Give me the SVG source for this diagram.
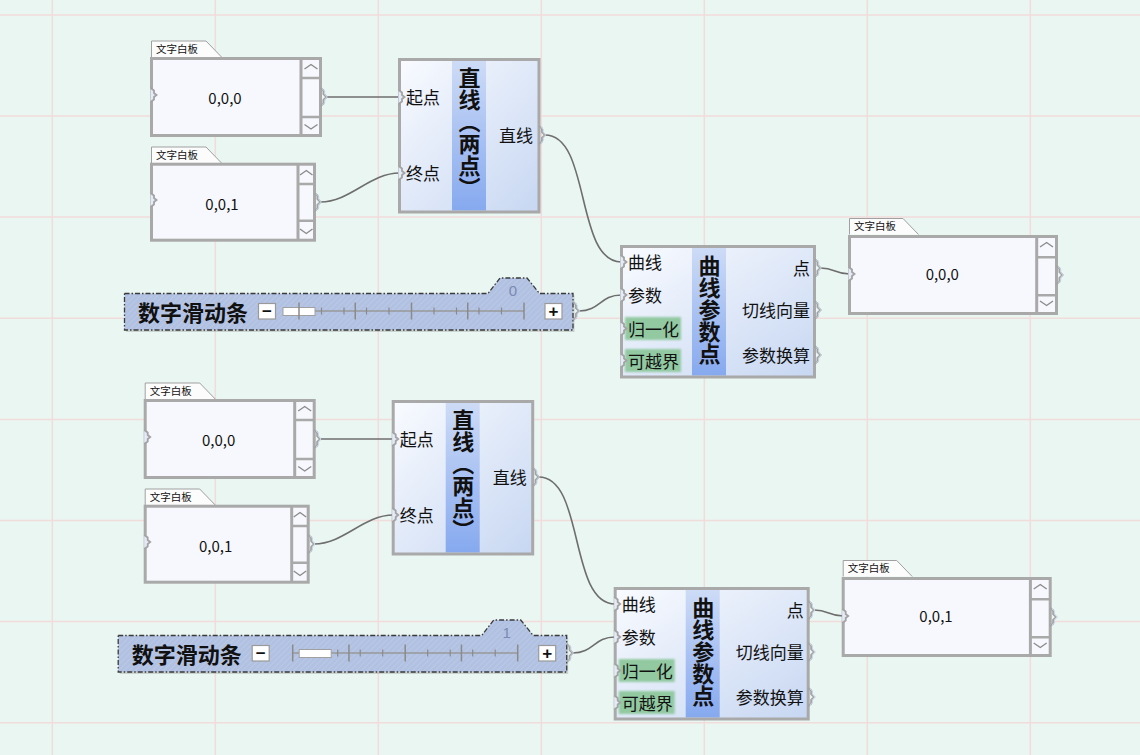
<svg xmlns="http://www.w3.org/2000/svg" xmlns:xlink="http://www.w3.org/1999/xlink" width="1140" height="755" viewBox="0 0 1140 755">
<style>
.t{font-family:"Noto Sans CJK SC","Noto Sans",sans-serif;fill:#111}
.lbl{font-size:17px;dominant-baseline:central}
.end{text-anchor:end}
.ttl{font-size:22px;font-weight:bold}
.tabt{font-size:10.5px}
.val{font-size:15px;text-anchor:middle;dominant-baseline:central}
.tabs{fill:#fcfcfc;stroke:#a0a0a0;stroke-width:1}
.pbox{fill:#f7f8fd;stroke:#a9a9a9;stroke-width:3}
.bd{fill:none;stroke:#a9a9a9;stroke-width:3}
.bd2{fill:none;stroke:#a9a9a9;stroke-width:2.5}
.chev{fill:none;stroke:#8c8c8c;stroke-width:1.4}
.nbody{fill:url(#gBody)}
.band{fill:url(#gBand)}
.green{fill:#92c9a1;filter:url(#soft)}
.w{fill:none;stroke:#6e6e6e;stroke-width:1.6}
.grid{stroke:#f1dcdc;stroke-width:1.5}
.sl{fill:url(#hatch);stroke:#3a3a3a;stroke-width:1.3;stroke-dasharray:5 2 1.5 2}
.slsh{fill:#000;opacity:0.14}
.btn{fill:#fff;stroke:#9a9a9a;stroke-width:1.2}
.btnt{font-family:"Liberation Sans","DejaVu Sans",sans-serif;font-size:17px;font-weight:bold;text-anchor:middle;dominant-baseline:central;fill:#111}
.trk{stroke:#999;stroke-width:1.5}
.maj{stroke:#8a8a8a;stroke-width:1.5}
.min{stroke:#8a8a8a;stroke-width:1.2}
.thumb{fill:#fff;stroke:#a0a0a0;stroke-width:1}
.slv{font-family:"Liberation Sans",sans-serif;font-size:15px;fill:#7a8ab2;text-anchor:middle}
.sltitle{font-size:22px;font-weight:bold;dominant-baseline:central}
</style>
<defs>
<linearGradient id="gBody" x1="0" y1="0" x2="1" y2="1">
<stop offset="0" stop-color="#f9fbff"/>
<stop offset="1" stop-color="#c7d7f2"/>
</linearGradient>
<linearGradient id="gBand" x1="0" y1="0" x2="0" y2="1">
<stop offset="0" stop-color="#cddbf6"/>
<stop offset="1" stop-color="#86a9ef"/>
</linearGradient>
<pattern id="hatch" width="4" height="4" patternUnits="userSpaceOnUse" patternTransform="rotate(45)">
<rect width="4" height="4" fill="#b1c1e2"/>
<line x1="0" y1="0" x2="0" y2="4" stroke="#c2cee8" stroke-width="1.2"/>
</pattern>
<filter id="soft" x="-10%" y="-20%" width="120%" height="140%"><feGaussianBlur stdDeviation="1"/></filter>
<g id="outB">
<path d="M0,-9 L3,-6.5 V-3 L6,0 L3,3 V6.5 L0,9" fill="none" stroke="#a3a3a3" stroke-width="2"/>
<path d="M1.6,-8 L4.2,-6 V-2.5 L6.8,0 L4.2,2.5 V6 L1.6,8" fill="none" stroke="#c6d3ea" stroke-width="1"/>
</g>
<g id="inN">
<path d="M-1,-7 L2.5,-4.5 V-2 L5,0 L2.5,2 V4.5 L-1,7" fill="#e4eaf6" stroke="#a3a3a3" stroke-width="1.8"/>
</g>
</defs>

<rect width="1140" height="755" fill="#eaf6f1"/>
<g id="grid">
<path class="grid" d="M52.3,0 V755 M215.3,0 V755 M378.3,0 V755 M541.3,0 V755 M704.3,0 V755 M867.3,0 V755 M1030.3,0 V755 M0,15 H1140 M0,116 H1140 M0,217 H1140 M0,318.3 H1140 M0,419.4 H1140 M0,520.5 H1140 M0,621.6 H1140 M0,722.7 H1140"/>
</g>

<g id="connectors">
<g id="wires-top">
<path class="w" d="M326.5,97 H399.5"/>
<path class="w" d="M320.5,202 C350,202 370,173 399.5,173"/>
<path class="w" d="M545,135 C591,135 575,262 621.5,262"/>
<path class="w" d="M579,311 C600,311 600,295 621.5,295"/>
<path class="w" d="M820.5,268 C835,268 835,274 849.5,274"/>
</g>
<g id="wires-bottom" transform="translate(-6.3,342)">
<path class="w" d="M326.5,97 H399.5"/>
<path class="w" d="M320.5,202 C350,202 370,173 399.5,173"/>
<path class="w" d="M545,135 C591,135 575,262 621.5,262"/>
<path class="w" d="M579,311 C600,311 600,295 621.5,295"/>
<path class="w" d="M820.5,268 C835,268 835,274 849.5,274"/>
</g>
</g>

<!-- TOP ROW -->
<g id="panel-start-1">
<path class="tabs" d="M151.5,57 V41 H206 L221.5,57"/>
<text class="t tabt" x="156" y="53">文字白板</text>
<rect class="pbox" x="151.5" y="58.5" width="169" height="77"/>
<path class="bd" d="M301,58.5 V135.5"/>
<path class="bd2" d="M301,78 H320.5 M301,117 H320.5"/>
<path class="chev" d="M304.5,69 L311,64.5 L317.5,69 M304.5,124.5 L311,129 L317.5,124.5"/>
<use href="#inN" x="151.5" y="95"/>
<use href="#outB" x="320.5" y="97"/>
<text class="t val" x="225" y="97">0,0,0</text>
</g>

<g id="panel-end-1">
<path class="tabs" d="M151.5,163 V147 H206 L221.5,163"/>
<text class="t tabt" x="156" y="158.5">文字白板</text>
<rect class="pbox" x="151.5" y="164.2" width="163" height="76"/>
<path class="bd" d="M298,164.2 V240.2"/>
<path class="bd2" d="M298,184 H314.5 M298,220.7 H314.5"/>
<path class="chev" d="M300,175 L306.3,170.5 L312.5,175 M300,229 L306.3,233.5 L312.5,229"/>
<use href="#inN" x="151.5" y="200"/>
<use href="#outB" x="314.5" y="202"/>
<text class="t val" x="222" y="203">0,0,1</text>
</g>

<g id="line-1">
<rect class="nbody" x="399.5" y="59.5" width="139.5" height="152.5"/>
<rect class="band" x="452" y="61" width="34" height="149.5"/>
<rect class="bd" x="399.5" y="59.5" width="139.5" height="152.5"/>
<use href="#inN" x="399.5" y="97"/>
<use href="#inN" x="399.5" y="173"/>
<use href="#outB" x="539" y="135"/>
<text class="t lbl" x="406" y="96.5">起点</text>
<text class="t lbl" x="406" y="172.5">终点</text>
<text class="t lbl end" x="533" y="134.5">直线</text>
<text class="t ttl" x="469.5" y="67" writing-mode="vertical-rl">直线（两点）</text>
</g>

<g id="slider-1">
<path class="slsh" transform="translate(1.5,2)" d="M124.5,293.5 H488 L500,278 H527 L539.5,293.5 H573 V330 H124.5 Z"/>
<path class="sl" d="M124.5,293.5 H488 L500,278 H527 L539.5,293.5 H573 V330 H124.5 Z"/>
<text class="slv" x="513" y="295.5">0</text>
<text class="t sltitle" x="138" y="311">数字滑动条</text>
<rect class="btn" x="258.5" y="303.5" width="17" height="15.5"/>
<text class="btnt" x="267" y="311">−</text>
<rect class="btn" x="545" y="303.5" width="17" height="15.5"/>
<text class="btnt" x="553.5" y="311">+</text>
<line class="trk" x1="299" y1="311" x2="524" y2="311"/>
<path class="min" d="M321.5,307.5 V314.5 M344,307.5 V314.5 M366.5,307.5 V314.5 M389,307.5 V314.5 M434,307.5 V314.5 M456.5,307.5 V314.5 M479,307.5 V314.5 M501.5,307.5 V314.5"/>
<rect class="thumb" x="283" y="307.5" width="32" height="8"/>
<path class="maj" d="M299,302.5 V319.5 M355.25,302.5 V319.5 M411.5,302.5 V319.5 M467.75,302.5 V319.5 M524,302.5 V319.5"/>
<use href="#outB" x="573" y="311"/>
</g>

<g id="curve-1">
<rect class="nbody" x="621.5" y="246.5" width="193" height="130.5"/>
<rect class="band" x="692" y="248" width="34" height="127.5"/>
<rect class="green" x="625" y="317" width="56" height="23"/>
<rect class="green" x="625" y="349" width="56" height="23"/>
<rect class="bd" x="621.5" y="246.5" width="193" height="130.5"/>
<use href="#inN" x="621.5" y="262"/>
<use href="#inN" x="621.5" y="295"/>
<use href="#inN" x="621.5" y="328.5"/>
<use href="#inN" x="621.5" y="360.5"/>
<use href="#outB" x="814.5" y="268"/>
<use href="#outB" x="814.5" y="310"/>
<use href="#outB" x="814.5" y="355"/>
<text class="t lbl" x="628" y="261.5">曲线</text>
<text class="t lbl" x="628" y="294.5">参数</text>
<text class="t lbl" x="628" y="328">归一化</text>
<text class="t lbl" x="628" y="360">可越界</text>
<text class="t lbl end" x="810" y="267.5">点</text>
<text class="t lbl end" x="810" y="309.5">切线向量</text>
<text class="t lbl end" x="810" y="354.5">参数换算</text>
<text class="t ttl" x="709.5" y="255" writing-mode="vertical-rl">曲线参数点</text>
</g>

<g id="panel-out-1">
<path class="tabs" d="M849.5,234.5 V218.5 H903 L918.5,234.5"/>
<text class="t tabt" x="854" y="230">文字白板</text>
<rect class="pbox" x="849.5" y="236.5" width="207" height="77"/>
<path class="bd" d="M1036.7,236.5 V313.5"/>
<path class="bd2" d="M1036.7,257.3 H1056.5 M1036.7,295.3 H1056.5"/>
<path class="chev" d="M1040,247 L1046.6,242.5 L1053,247 M1040,301 L1046.6,305.5 L1053,301"/>
<use href="#inN" x="849.5" y="274"/>
<use href="#outB" x="1056.5" y="275"/>
<text class="t val" x="942.3" y="273.5">0,0,0</text>
</g>

<!-- BOTTOM ROW -->
<g id="panel-start-2" transform="translate(-6.3,342)">
<path class="tabs" d="M151.5,57 V41 H206 L221.5,57"/>
<text class="t tabt" x="156" y="53">文字白板</text>
<rect class="pbox" x="151.5" y="58.5" width="169" height="77"/>
<path class="bd" d="M301,58.5 V135.5"/>
<path class="bd2" d="M301,78 H320.5 M301,117 H320.5"/>
<path class="chev" d="M304.5,69 L311,64.5 L317.5,69 M304.5,124.5 L311,129 L317.5,124.5"/>
<use href="#inN" x="151.5" y="95"/>
<use href="#outB" x="320.5" y="97"/>
<text class="t val" x="225" y="97">0,0,0</text>
</g>

<g id="panel-end-2" transform="translate(-6.3,342)">
<path class="tabs" d="M151.5,163 V147 H206 L221.5,163"/>
<text class="t tabt" x="156" y="158.5">文字白板</text>
<rect class="pbox" x="151.5" y="164.2" width="163" height="76"/>
<path class="bd" d="M298,164.2 V240.2"/>
<path class="bd2" d="M298,184 H314.5 M298,220.7 H314.5"/>
<path class="chev" d="M300,175 L306.3,170.5 L312.5,175 M300,229 L306.3,233.5 L312.5,229"/>
<use href="#inN" x="151.5" y="200"/>
<use href="#outB" x="314.5" y="202"/>
<text class="t val" x="222" y="203">0,0,1</text>
</g>

<g id="line-2" transform="translate(-6.3,342)">
<rect class="nbody" x="399.5" y="59.5" width="139.5" height="152.5"/>
<rect class="band" x="452" y="61" width="34" height="149.5"/>
<rect class="bd" x="399.5" y="59.5" width="139.5" height="152.5"/>
<use href="#inN" x="399.5" y="97"/>
<use href="#inN" x="399.5" y="173"/>
<use href="#outB" x="539" y="135"/>
<text class="t lbl" x="406" y="96.5">起点</text>
<text class="t lbl" x="406" y="172.5">终点</text>
<text class="t lbl end" x="533" y="134.5">直线</text>
<text class="t ttl" x="469.5" y="67" writing-mode="vertical-rl">直线（两点）</text>
</g>

<g id="slider-2" transform="translate(-6.3,342)">
<path class="slsh" transform="translate(1.5,2)" d="M124.5,293.5 H488 L500,278 H527 L539.5,293.5 H573 V330 H124.5 Z"/>
<path class="sl" d="M124.5,293.5 H488 L500,278 H527 L539.5,293.5 H573 V330 H124.5 Z"/>
<text class="slv" x="513" y="295.5">1</text>
<text class="t sltitle" x="138" y="311">数字滑动条</text>
<rect class="btn" x="258.5" y="303.5" width="17" height="15.5"/>
<text class="btnt" x="267" y="311">−</text>
<rect class="btn" x="545" y="303.5" width="17" height="15.5"/>
<text class="btnt" x="553.5" y="311">+</text>
<line class="trk" x1="299" y1="311" x2="524" y2="311"/>
<path class="min" d="M321.5,307.5 V314.5 M344,307.5 V314.5 M366.5,307.5 V314.5 M389,307.5 V314.5 M434,307.5 V314.5 M456.5,307.5 V314.5 M479,307.5 V314.5 M501.5,307.5 V314.5"/>
<rect class="thumb" x="305.5" y="307.5" width="32" height="8"/>
<path class="maj" d="M299,302.5 V319.5 M355.25,302.5 V319.5 M411.5,302.5 V319.5 M467.75,302.5 V319.5 M524,302.5 V319.5"/>
<use href="#outB" x="573" y="311"/>
</g>

<g id="curve-2" transform="translate(-6.3,342)">
<rect class="nbody" x="621.5" y="246.5" width="193" height="130.5"/>
<rect class="band" x="692" y="248" width="34" height="127.5"/>
<rect class="green" x="625" y="317" width="56" height="23"/>
<rect class="green" x="625" y="349" width="56" height="23"/>
<rect class="bd" x="621.5" y="246.5" width="193" height="130.5"/>
<use href="#inN" x="621.5" y="262"/>
<use href="#inN" x="621.5" y="295"/>
<use href="#inN" x="621.5" y="328.5"/>
<use href="#inN" x="621.5" y="360.5"/>
<use href="#outB" x="814.5" y="268"/>
<use href="#outB" x="814.5" y="310"/>
<use href="#outB" x="814.5" y="355"/>
<text class="t lbl" x="628" y="261.5">曲线</text>
<text class="t lbl" x="628" y="294.5">参数</text>
<text class="t lbl" x="628" y="328">归一化</text>
<text class="t lbl" x="628" y="360">可越界</text>
<text class="t lbl end" x="810" y="267.5">点</text>
<text class="t lbl end" x="810" y="309.5">切线向量</text>
<text class="t lbl end" x="810" y="354.5">参数换算</text>
<text class="t ttl" x="709.5" y="255" writing-mode="vertical-rl">曲线参数点</text>
</g>

<g id="panel-out-2" transform="translate(-6.3,342)">
<path class="tabs" d="M849.5,234.5 V218.5 H903 L918.5,234.5"/>
<text class="t tabt" x="854" y="230">文字白板</text>
<rect class="pbox" x="849.5" y="236.5" width="207" height="77"/>
<path class="bd" d="M1036.7,236.5 V313.5"/>
<path class="bd2" d="M1036.7,257.3 H1056.5 M1036.7,295.3 H1056.5"/>
<path class="chev" d="M1040,247 L1046.6,242.5 L1053,247 M1040,301 L1046.6,305.5 L1053,301"/>
<use href="#inN" x="849.5" y="274"/>
<use href="#outB" x="1056.5" y="275"/>
<text class="t val" x="942.3" y="273.5">0,0,1</text>
</g>
</svg>
